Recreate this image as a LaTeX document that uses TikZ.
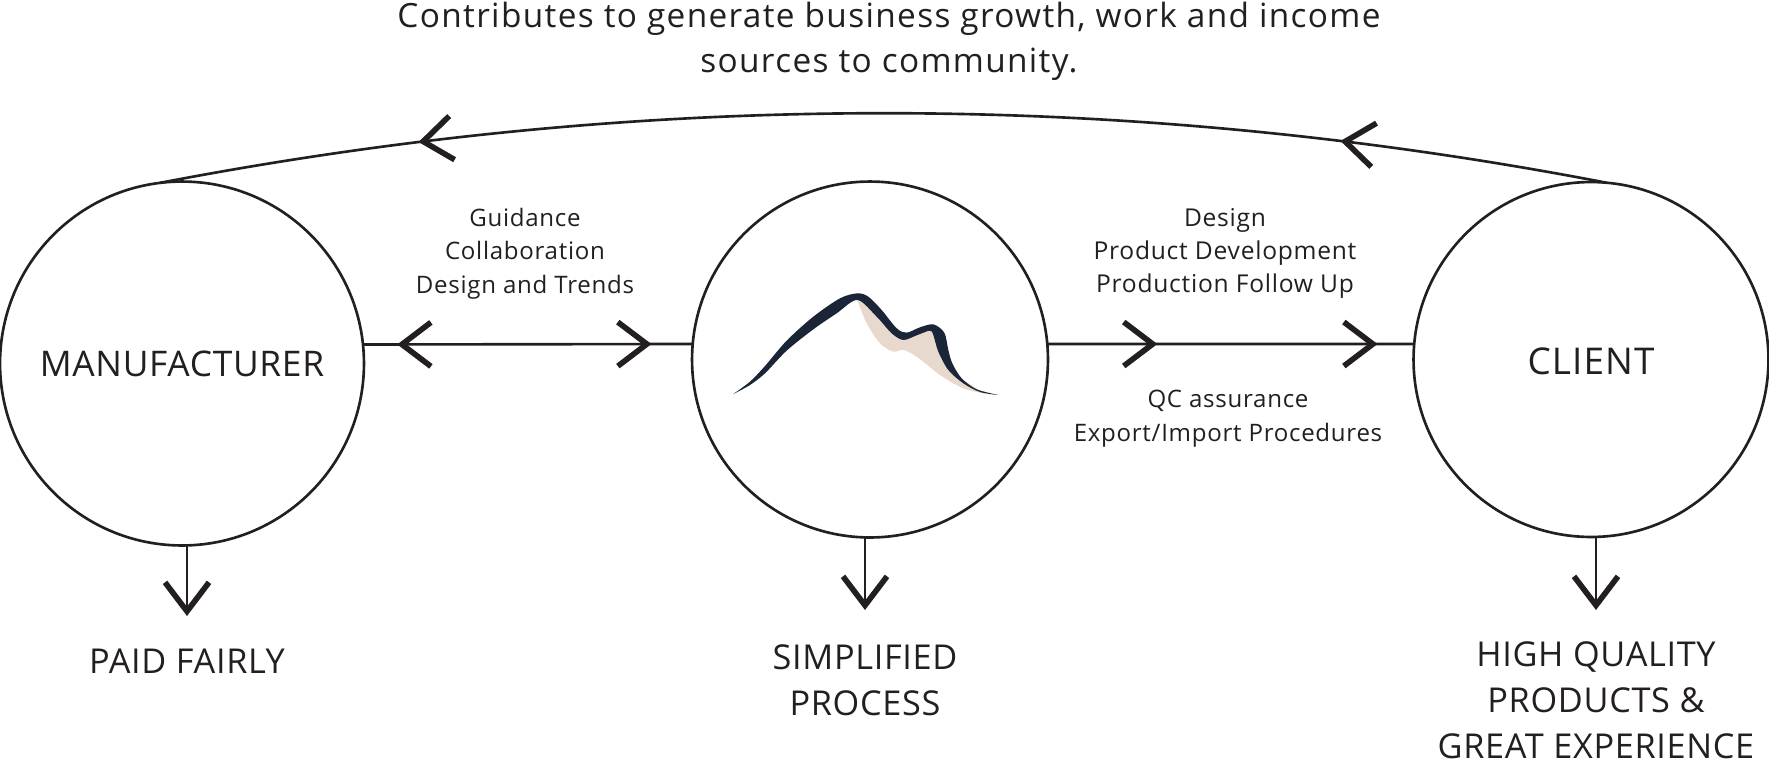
\documentclass[tikz,border=0pt]{standalone}
\usepackage{fontspec}
\setmainfont{Open Sans}
\usetikzlibrary{arrows.meta,decorations.markings}
\definecolor{inkline}{HTML}{231F20}
\definecolor{peaknavy}{HTML}{1A2537}
\definecolor{peaksand}{HTML}{E8D9CF}
\newcommand{\barbtip}{Straight Barb[length=0.58cm,width=0.88cm,line width=3.2pt]}
\begin{document}
\begin{tikzpicture}[x=0.02cm, y=-0.02cm, line join=miter, text=inkline,
		bubble/.style={draw=inkline, line width=1.5pt, circle, inner sep=0pt, outer sep=0pt},
		link/.style={draw=inkline, line width=1.5pt},
		tipfwd/.style={postaction={decorate, decoration={markings, mark=at position #1 with {\arrow{\barbtip}}}}},
		tiprev/.style={postaction={decorate, decoration={markings, mark=at position #1 with {\arrowreversed{\barbtip}}}}},
		bigtag/.style={align=center, inner sep=0pt, font=\fontsize{19.5}{26.2}\selectfont\addfontfeature{LetterSpace=2}},
		roundtag/.style={align=center, inner sep=0pt, font=\fontsize{20.1}{26}\selectfont\addfontfeature{LetterSpace=2}},
		smalltag/.style={align=center, inner sep=0pt, font=\fontsize{13.7}{19}\selectfont\addfontfeature{LetterSpace=3}},
		toptag/.style={align=center, inner sep=0pt, font=\fontsize{19}{25.6}\selectfont\addfontfeature{LetterSpace=4}}]
	\useasboundingbox (0,0) rectangle (1769,762);
	\node[bubble, minimum size=7.28cm, roundtag] (manufacturer) at (182,363.5) {MANUFACTURER};
	\node[bubble, minimum size=7.12cm] (hub) at (870,359.5) {};
	\node[bubble, minimum size=7.10cm, roundtag] (client) at (1591,359.5) {\fontsize{21}{26}\selectfont\addfontfeature{LetterSpace=3}\raisebox{0pt}[\dimexpr\height+2pt\relax]{CLIENT}};
	\node[toptag] (community) at (889,41) {Contributes to generate business growth, work and income\\sources to community.};
	\node[smalltag] (guidance) at (525,253.5) {Guidance\\Collaboration\\Design and Trends};
	\node[smalltag, font=\fontsize{14}{19}\selectfont\addfontfeature{LetterSpace=3}] (design) at (1225,253.5) {Design\\Product Development\\Production Follow Up};
	\node[smalltag] (assurance) at (1228,418.5) {QC assurance\\Export/Import Procedures};
	\node[bigtag] (paid) at (187,661) {PAID FAIRLY};
	\node[bigtag] (simplified) at (865,680) {SIMPLIFIED\\PROCESS};
	\node[bigtag] (quality) at (1596,700.5) {HIGH QUALITY\\PRODUCTS \&\\GREAT EXPERIENCE};
	\coordinate (paidtip) at (187,616);
	\coordinate (simplifiedtip) at (865,610);
	\coordinate (qualitytip) at (1596,610);
	\draw[link, tiprev=0.104, tipfwd=0.875] (manufacturer.6) -- (hub.175);
	\draw[link, tipfwd=0.30, tipfwd=0.90] (hub.5) -- (client.175);
	\draw[link, tipfwd=0.185, tipfwd=0.82] (client.85) .. controls (1125,90) and (643,90) .. (manufacturer.97);
	\draw[link, -{\barbtip}] (paidtip |- manufacturer.south) -- (paidtip);
	\draw[link, -{\barbtip}] (simplifiedtip |- hub.south) -- (simplifiedtip);
	\draw[link, -{\barbtip}] (qualitytip |- client.south) -- (qualitytip);
	\begin{scope}[shift={(700,180)}, scale=0.3333]
		\fill[peaksand] (472,360) -- (540,400) -- (620,470) -- (700,450) -- (720,500) -- (775,590) -- (840,632) -- (895,645)
			-- plot[smooth] coordinates {(895,645) (860,642) (790,625) (720,585) (650,530) (610,510) (580,515) (540,490) (500,430) (472,360)} -- cycle;
		\fill[peaknavy] plot[smooth, tension=0.5] coordinates {(100,642) (150,605) (195,558) (260,482) (340,410) (420,355) (472,340) (505,350) (545,390) (590,445) (620,458) (660,442) (700,433) (733,458) (745,510) (757,550) (785,595) (830,628) (895,645)}
			-- plot[smooth, tension=0.5] coordinates {(895,645) (840,636) (790,610) (745,570) (715,515) (700,465) (690,452) (650,466) (610,480) (575,460) (530,410) (472,360) (410,400) (340,448) (260,512) (195,580) (150,615) (100,642)} -- cycle;
	\end{scope}
\end{tikzpicture}
\end{document}
